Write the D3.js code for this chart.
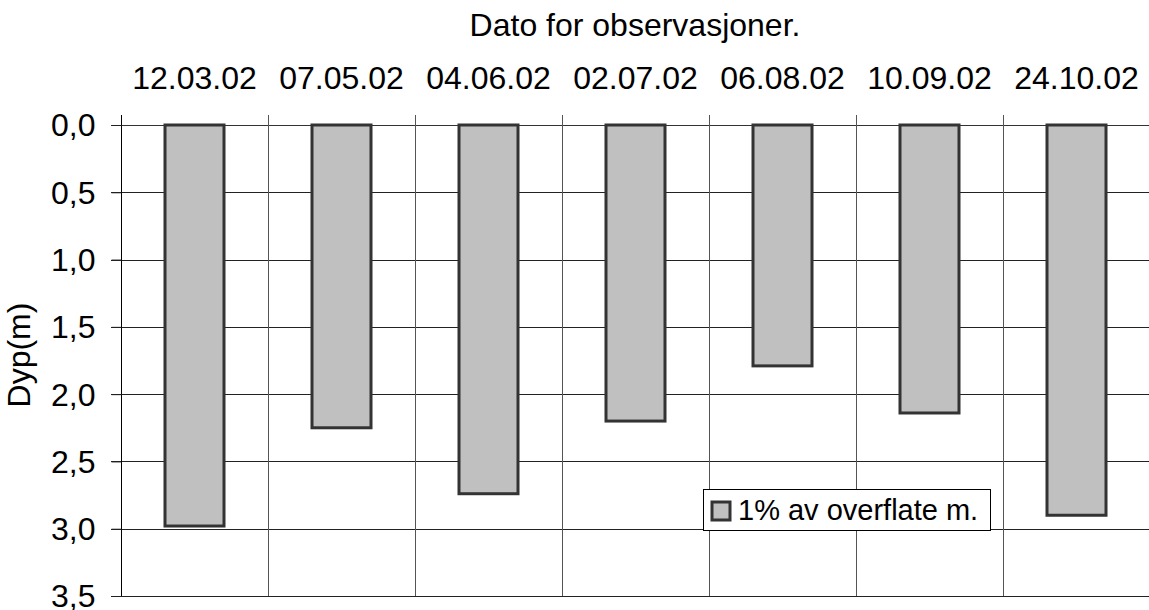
<!DOCTYPE html>
<html>
<head>
<meta charset="utf-8">
<script src="https://cdn.jsdelivr.net/npm/d3@7"></script>
<style>
  html, body { margin: 0; padding: 0; background: #fff; }
  svg { display: block; font-family: "Liberation Sans", Arial, sans-serif; }
</style>
</head>
<body>
<svg id="chart" width="1149" height="610"></svg>
<script>
const categories = ["12.03.02", "07.05.02", "04.06.02", "02.07.02", "06.08.02", "10.09.02", "24.10.02"];
const depths = [2.98, 2.25, 2.74, 2.20, 1.79, 2.14, 2.90];
const yTicks = [0, 0.5, 1.0, 1.5, 2.0, 2.5, 3.0, 3.5];
const seriesName = "1% av overflate m.";
const xTitle = "Dato for observasjoner.";
const yTitle = "Dyp(m)";

const svg = d3.select("#chart");
const pL = 121, pR = 1150, pT = 125, pB = 596;

const x = d3.scaleBand().domain(categories).range([pL, pR]).padding(0);
const y = d3.scaleLinear().domain([0, 3.5]).range([pT, pB]);
const fmt = v => d3.format(".1f")(v).replace(".", ",");

// horizontal gridlines
svg.append("g").selectAll("line").data(yTicks).join("line")
  .attr("x1", pL - 10).attr("x2", pR)
  .attr("y1", d => Math.round(y(d)) + 0.5).attr("y2", d => Math.round(y(d)) + 0.5)
  .attr("stroke", d => (d === 0 ? "#333" : "#222")).attr("stroke-width", 1);

// vertical gridlines (band boundaries)
const bounds = categories.map(c => x(c)).concat([pR]);
svg.append("g").selectAll("line").data(bounds.slice(1)).join("line")
  .attr("x1", d => Math.round(d) + 0.5).attr("x2", d => Math.round(d) + 0.5)
  .attr("y1", pT - 10).attr("y2", pB)
  .attr("stroke", "#555").attr("stroke-width", 1);

// y axis
const yAxis = svg.append("g").attr("transform", `translate(${pL + 0.5},0)`)
  .call(d3.axisLeft(y).tickValues(yTicks).tickFormat(fmt).tickSize(10).tickPadding(16));
yAxis.select(".domain").attr("d", `M0,${pT - 10}V${pB}`).attr("stroke", "#000");
yAxis.selectAll(".tick line").attr("stroke", "#222");
yAxis.selectAll(".tick text").attr("font-size", 32).attr("fill", "#000")
  .attr("font-family", "Liberation Sans, Arial, sans-serif")
  .attr("dy", "0.34em");

// x axis labels on top
const xAxis = svg.append("g").attr("transform", `translate(0,${pT})`)
  .call(d3.axisTop(x).tickSize(0).tickPadding(0));
xAxis.select(".domain").remove();
xAxis.selectAll(".tick text").attr("font-size", 32).attr("fill", "#000")
  .attr("font-family", "Liberation Sans, Arial, sans-serif")
  .attr("y", 89 - pT).attr("dy", 0);

// bars
const bw = 59;
svg.append("g").selectAll("rect").data(depths).join("rect")
  .attr("x", (d, i) => x(categories[i]) + x.bandwidth() / 2 - bw / 2)
  .attr("y", y(0))
  .attr("width", bw)
  .attr("height", d => y(d) - y(0))
  .attr("fill", "#c0c0c0").attr("stroke", "#333").attr("stroke-width", 3);

// titles
svg.append("text").attr("x", 635).attr("y", 36).attr("text-anchor", "middle")
  .attr("font-size", 32).attr("fill", "#000").text(xTitle);
svg.append("text").attr("transform", "translate(30,355) rotate(-90)")
  .attr("text-anchor", "middle").attr("font-size", 32).attr("fill", "#000").text(yTitle);

// legend
const lg = svg.append("g");
lg.append("rect").attr("x", 703.5).attr("y", 489.5).attr("width", 287).attr("height", 41)
  .attr("fill", "#fff").attr("stroke", "#000").attr("stroke-width", 1);
lg.append("rect").attr("x", 712).attr("y", 502).attr("width", 18).attr("height", 18)
  .attr("fill", "#c0c0c0").attr("stroke", "#333").attr("stroke-width", 3);
lg.append("text").attr("x", 738).attr("y", 520).attr("font-size", 29).attr("fill", "#000")
  .text(seriesName);
</script>
</body>
</html>
